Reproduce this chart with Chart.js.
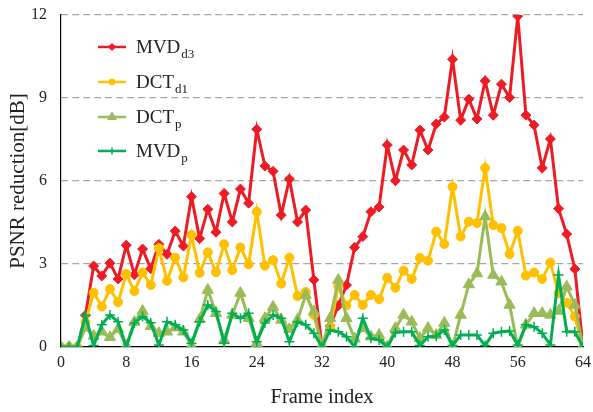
<!DOCTYPE html>
<html>
<head>
<meta charset="utf-8">
<script src="https://cdn.jsdelivr.net/npm/chart.js@4"></script>
<style>
	body { margin: 0; background: #fff; }
	#wrap { width: 593px; height: 412px; }
</style>
</head>
<body>
<div id="wrap"><canvas id="psnrChart" width="593" height="412"></canvas></div>
<script>
var frames = [0, 1, 2, 3, 4, 5, 6, 7, 8, 9, 10, 11, 12, 13, 14, 15, 16, 17, 18, 19, 20, 21, 22, 23, 24, 25, 26, 27, 28, 29, 30, 31, 32,
	33, 34, 35, 36, 37, 38, 39, 40, 41, 42, 43, 44, 45, 46, 47, 48, 49, 50, 51, 52, 53, 54, 55, 56, 57, 58, 59, 60, 61, 62, 63, 64];

var mvdD3 = [0, 0, 0, 1.15, 2.93, 2.57, 3.03, 2.46, 3.68, 2.61, 3.54, 2.83, 3.71, 3.35, 4.19, 3.65, 5.43, 3.92, 4.98, 4.15, 5.55, 4.52,
	5.71, 5.2, 7.87, 6.54, 6.35, 4.77, 6.07, 4.52, 4.95, 2.43, 0, 0.76, 1.5, 2.24, 3.6, 3.99, 4.89, 5.06, 7.3, 6.01, 7.12, 6.58,
	7.84, 7.12, 8.06, 8.31, 10.4, 8.2, 8.96, 8.24, 9.62, 8.38, 9.5, 9.02, 11.96, 8.38, 8.02, 6.47, 7.52, 5.0, 4.08, 2.82, 0];

var dctD1 = [0, 0, 0, 0.9, 1.96, 1.46, 2.1, 1.62, 2.64, 2.02, 2.69, 2.24, 3.57, 2.39, 3.23, 2.52, 4.05, 2.68, 3.42, 2.7, 3.71, 2.78,
	3.6, 2.99, 4.89, 2.94, 3.14, 2.29, 3.23, 1.84, 1.99, 1.16, 0, 0.7, 2.2, 1.5, 1.88, 1.52, 1.88, 1.73, 2.5, 2.14, 2.76, 2.46,
	3.22, 3.12, 4.17, 3.72, 5.79, 3.99, 4.53, 4.48, 6.47, 4.41, 4.3, 3.36, 4.2, 2.58, 2.69, 2.46, 3.05, 1.95, 1.6, 1.1, 0];

var dctP = [0, 0, 0, 0.7, 0.4, 0.55, 0.35, 0.65, 0.05, 0.9, 1.3, 0.75, 0.5, 0.55, 0.7, 0.55, 0.05, 1.0, 2.06, 1.22, 0.25, 1.16,
	1.95, 1.04, 0.14, 1.04, 1.45, 0.98, 0.64, 0.98, 1.88, 1.28, 0, 1.04, 2.42, 1.04, 0.3, 0.68, 0.37, 0.43, 0, 0.68, 1.16, 0.91,
	0.32, 0.68, 0.43, 0.87, 0, 1.16, 2.26, 2.66, 4.71, 2.6, 2.36, 1.52, 0, 0.8, 1.22, 1.22, 1.16, 1.3, 2.18, 1.52, 0];

var mvdP = [0, 0, 0, 1.15, 0.05, 0.8, 1.16, 0.91, 0, 0.87, 1.1, 0.88, 0.07, 0.91, 0.8, 0.61, 0.14, 0.91, 1.52, 1.28, 0.14, 1.22,
	1.04, 1.22, 0.19, 0.87, 1.16, 1.04, 0.19, 0.91, 0.8, 0.5, 0, 0.61, 0.55, 0.37, 0, 1.04, 0.32, 0.25, 0, 0.52, 0.55, 0.55,
	0.05, 0.37, 0.39, 0.61, 0.05, 0.43, 0.43, 0.43, 0.05, 0.5, 0.55, 0.58, 0.07, 0.8, 0.73, 0.5, 0.07, 2.6, 0.55, 0.55, 0];

var xTicks = [0, 8, 16, 24, 32, 40, 48, 56, 64];
var yTicks = [0, 3, 6, 9, 12];

// legend names are split so the subscript can be drawn smaller
var legendNames = [['MVD', 'd3'], ['DCT', 'd1'], ['DCT', 'p'], ['MVD', 'p']];

var serif = "'Liberation Serif', 'DejaVu Serif', serif";

function toPoints(values) {
	return values.map(function(v, i) {
		return {x: frames[i], y: v};
	});
}

function makeSeries(values, color, style, radius, order) {
	return {
		data: toPoints(values),
		borderColor: color,
		backgroundColor: color,
		pointBackgroundColor: color,
		pointBorderColor: color,
		pointStyle: style,
		pointRadius: radius,
		pointBorderWidth: style === 'cross' ? 1.5 : 1,
		borderWidth: 3,
		tension: 0,
		order: order
	};
}

// draws the legend inside the plot, with subscripts
var subscriptLegend = {
	id: 'subscriptLegend',
	afterDraw: function(chart) {
		var ctx = chart.ctx;
		var rows = [47, 82, 117, 151];
		chart.data.datasets.forEach(function(ds, i) {
			var y = rows[i];
			ctx.save();
			ctx.strokeStyle = ds.borderColor;
			ctx.fillStyle = ds.borderColor;
			ctx.lineWidth = 2.5;
			ctx.beginPath();
			ctx.moveTo(98, y);
			ctx.lineTo(126, y);
			ctx.stroke();
			ctx.lineWidth = ds.pointBorderWidth;
			Chart.helpers.drawPoint(ctx, {
				pointStyle: ds.pointStyle,
				radius: ds.pointRadius - 1.5,
				borderWidth: ds.pointBorderWidth,
				rotation: 0
			}, 112, y);
			ctx.fillStyle = '#222';
			ctx.textBaseline = 'alphabetic';
			ctx.font = '19px ' + serif;
			ctx.fillText(legendNames[i][0], 136, y + 6);
			var w = ctx.measureText(legendNames[i][0]).width;
			ctx.font = '13px ' + serif;
			ctx.fillText(legendNames[i][1], 136 + w + 1, y + 11);
			ctx.restore();
		});
	}
};

var ctx = document.getElementById('psnrChart').getContext('2d');
var chart = new Chart(ctx, {
	type: 'line',
	data: {
		datasets: [
			makeSeries(mvdD3, '#ED1C24', 'rectRot', 5, 3),
			makeSeries(dctD1, '#FFC000', 'circle', 4.5, 2),
			makeSeries(dctP, '#9BBB59', 'triangle', 6.5, 1),
			makeSeries(mvdP, '#00B050', 'cross', 5, 0)
		]
	},
	options: {
		responsive: false,
		animation: false,
		devicePixelRatio: 1,
		layout: {padding: {left: 0, right: 10, top: 15, bottom: 0}},
		plugins: {
			legend: {display: false},
			tooltip: {enabled: false}
		},
		scales: {
			x: {
				type: 'linear',
				min: 0,
				max: 64,
				afterBuildTicks: function(scale) {
					scale.ticks = xTicks.map(function(v) { return {value: v}; });
				},
				afterFit: function(scale) {
					scale.height = 65;
					scale.paddingLeft = 0;
					scale.paddingRight = 0;
				},
				grid: {display: false, drawTicks: false},
				border: {display: true, color: '#000', width: 1.2},
				ticks: {
					padding: 6,
					color: '#222',
					font: {family: serif, size: 16}
				},
				title: {
					display: true,
					text: 'Frame index',
					color: '#222',
					padding: {top: 0, bottom: 2},
					font: {family: serif, size: 20.5}
				}
			},
			y: {
				min: 0,
				max: 12,
				afterBuildTicks: function(scale) {
					scale.ticks = yTicks.map(function(v) { return {value: v}; });
				},
				afterFit: function(scale) {
					scale.width = 61;
					scale.paddingTop = 0;
					scale.paddingBottom = 0;
				},
				grid: {
					drawTicks: false,
					color: function(c) { return c.tick.value === 0 ? 'rgba(0,0,0,0)' : '#A6A6A6'; },
					lineWidth: 1.2
				},
				border: {display: true, color: '#000', width: 1.2, dash: [7, 4]},
				ticks: {
					padding: 14,
					color: '#222',
					font: {family: serif, size: 16}
				},
				title: {
					display: true,
					text: 'PSNR reduction[dB]',
					color: '#222',
					padding: {top: 6, bottom: 0},
					font: {family: serif, size: 21}
				}
			}
		}
	},
	plugins: [subscriptLegend]
});
</script>
</body>
</html>
